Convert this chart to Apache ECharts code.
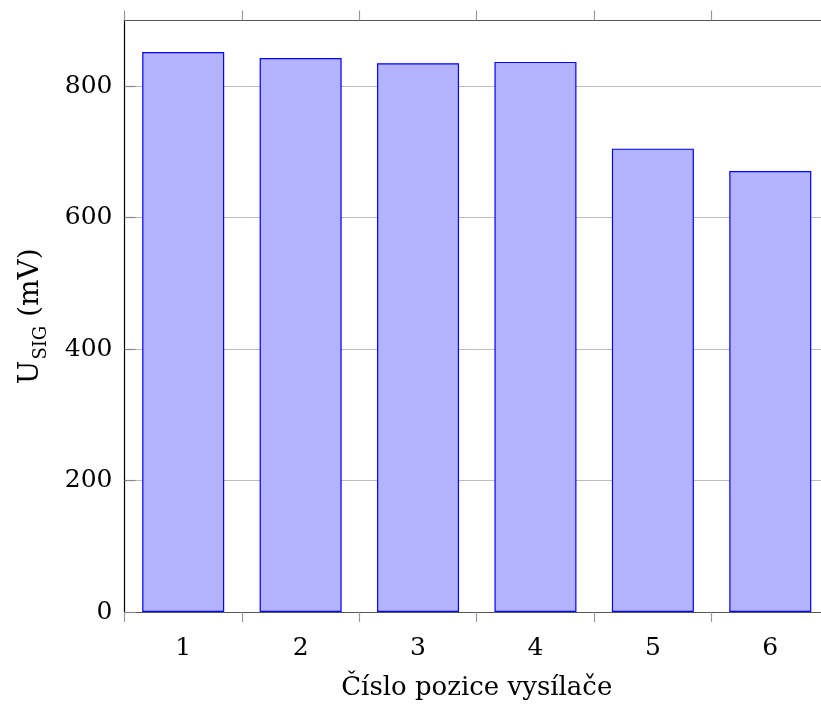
<!DOCTYPE html>
<html>
<head>
<meta charset="utf-8">
<script src="https://cdn.jsdelivr.net/npm/echarts@6/dist/echarts.min.js"></script>
<style>
html,body{margin:0;padding:0;background:#fff;overflow:hidden;width:821px;height:711px;}
#c{width:829px;height:711px;}
</style>
</head>
<body>
<div id="c"></div>
<script>
const categories = ['1', '2', '3', '4', '5', '6'];
const values = [852, 843, 835, 837, 705, 671];
const yTicks = [0, 200, 400, 600, 800];

const FONT = '"DejaVu Serif", "Liberation Serif", serif';
const chart = echarts.init(document.getElementById('c'));
chart.setOption({
  animation: false,
  backgroundColor: '#fff',
  grid: { left: 124.5, top: 20.5, bottom: 99, right: 0, containLabel: false },
  xAxis: [{
    type: 'category',
    data: categories,
    position: 'bottom',
    boundaryGap: true,
    name: 'Číslo pozice vysílače',
    nameLocation: 'middle',
    nameGap: 63,
    nameTextStyle: { fontFamily: FONT, fontSize: 26, color: '#000' },
    axisLine: { show: true, lineStyle: { color: '#555', width: 1.2 } },
    axisTick: { show: true, inside: false, length: 10, lineStyle: { color: '#999', width: 1.2 } },
    axisLabel: { fontFamily: FONT, fontSize: 25, color: '#000', margin: 24 },
    splitLine: { show: false }
  }, {
    type: 'category',
    data: categories,
    position: 'top',
    boundaryGap: true,
    axisLine: { show: true, lineStyle: { color: '#555', width: 1.2 } },
    axisTick: { show: true, inside: false, length: 10, lineStyle: { color: '#999', width: 1.2 } },
    axisLabel: { show: false },
    splitLine: { show: false }
  }],
  yAxis: {
    type: 'value',
    min: 0,
    max: 900,
    interval: 200,
    name: '{a|U}{b|SIG}{a| (mV)}',
    nameLocation: 'middle',
    nameGap: 80,
    nameRotate: 90,
    nameTextStyle: {
      rich: {
        a: { fontFamily: FONT, fontSize: 28, color: '#000', lineHeight: 36, verticalAlign: 'bottom' },
        b: { fontFamily: FONT, fontSize: 18, color: '#000', lineHeight: 36, verticalAlign: 'bottom', padding: [0, 0, -6, 1] }
      }
    },
    axisLine: { show: true, lineStyle: { color: '#000', width: 1.2 } },
    axisTick: { show: true, inside: true, length: 11, lineStyle: { color: '#888', width: 1.2 } },
    axisLabel: {
      fontFamily: FONT, fontSize: 25, color: '#000', margin: 12,
      showMaxLabel: false,
      formatter: function (v) { return yTicks.indexOf(v) >= 0 ? String(v) : ''; }
    },
    splitLine: { show: true, lineStyle: { color: '#bbb', width: 1 } }
  },
  series: [{
    type: 'bar',
    xAxisIndex: 0,
    data: values,
    barWidth: 82,
    itemStyle: { color: '#b3b3ff', borderColor: '#0000ff', borderWidth: 1.2 }
  }]
});
</script>
</body>
</html>
